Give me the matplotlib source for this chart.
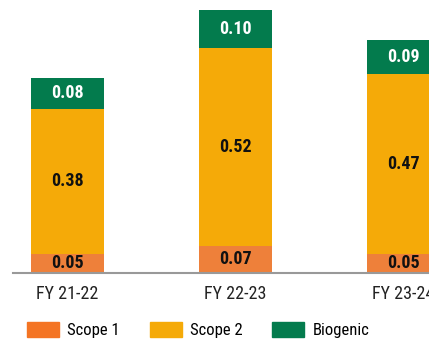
import matplotlib
matplotlib.use('Agg')
import matplotlib.pyplot as plt
from matplotlib.patches import Patch
import numpy as np

years = ['FY 21-22', 'FY 22-23', 'FY 23-24']
scope1 = [0.05, 0.07, 0.05]
scope2 = [0.38, 0.52, 0.47]
biogenic = [0.08, 0.10, 0.09]

plt.rcParams['font.family'] = ['Roboto Condensed', 'Liberation Sans Narrow', 'Roboto', 'DejaVu Sans']

c_s1 = '#EE803A'
c_s2 = '#F5AA08'
c_bio = '#037B4D'

fig = plt.figure(figsize=(4.29, 3.41), dpi=100)
ax = fig.add_axes([13 / 429, 0.2, 1 - 13 / 429, 0.8])

x = np.arange(len(years))
w = 0.435
s1 = np.array(scope1)
s2 = np.array(scope2)
bio = np.array(biogenic)

ax.bar(x, s1, w, color=c_s1)
ax.bar(x, s2, w, bottom=s1, color=c_s2)
ax.bar(x, bio, w, bottom=s1 + s2, color=c_bio)

# value labels in the middle of each segment
for i in range(len(years)):
    ax.text(x[i], s1[i] / 2, f'{s1[i]:.2f}', ha='center', va='center',
            fontsize=13, fontweight='bold', color='#111111')
    ax.text(x[i], s1[i] + s2[i] / 2, f'{s2[i]:.2f}', ha='center', va='center',
            fontsize=13, fontweight='bold', color='#111111')
    ax.text(x[i], s1[i] + s2[i] + bio[i] / 2, f'{bio[i]:.2f}', ha='center', va='center',
            fontsize=13, fontweight='bold', color='white')

ax.set_xlim(-0.323, 2.154)
ax.set_ylim(0, 0.715)
ax.set_xticks(x)
ax.set_xticklabels(years, fontsize=13, color='#222222')
ax.tick_params(axis='x', length=0, pad=9)
ax.set_yticks([])
for s in ['top', 'right', 'left']:
    ax.spines[s].set_visible(False)
ax.spines['bottom'].set_color('#999999')
ax.spines['bottom'].set_linewidth(1.5)

handles = [Patch(color='#F47423', label='Scope 1'),
           Patch(color=c_s2, label='Scope 2'),
           Patch(color=c_bio, label='Biogenic')]
fig.legend(handles=handles, loc='center left', bbox_to_anchor=(27 / 429, 0.032), ncol=3,
           frameon=False, fontsize=12, handlelength=1.92, handleheight=0.96,
           handletextpad=0.48, columnspacing=1.8, borderpad=0, borderaxespad=0)

fig.savefig('out.png', dpi=100)
